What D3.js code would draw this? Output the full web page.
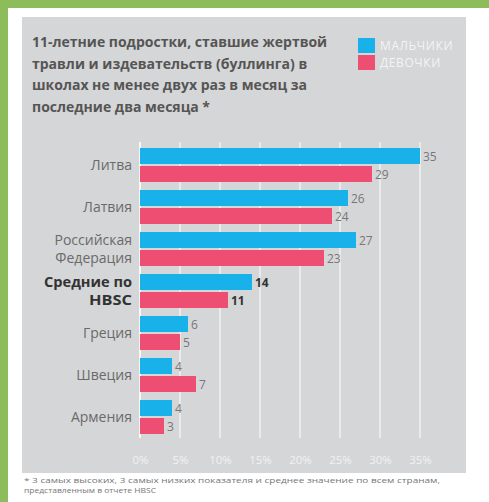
<!DOCTYPE html>
<html lang="ru">
<head>
    <meta charset="UTF-8">
    <title>Буллинг</title>
    <script src="https://cdn.jsdelivr.net/npm/d3@7"></script>
    <style>
        body { margin: 0; background: #fff; }
        svg { display: block; font-family: "Open Sans", "Noto Sans", sans-serif; }
    </style>
</head>
<body>
    <div id="chart"></div>
    <script>
        // данные
        const countries = [
            ["Литва"],
            ["Латвия"],
            ["Российская", "Федерация"],
            ["Средние по", "HBSC"],
            ["Греция"],
            ["Швеция"],
            ["Армения"]
        ];
        const boys = [35, 26, 27, 14, 6, 4, 4];
        const girls = [29, 24, 23, 11, 5, 7, 3];
        const ticks = [0, 5, 10, 15, 20, 25, 30, 35];
        const titleLines = [
            "11-летние подростки, ставшие жертвой",
            "травли и издевательств (буллинга) в",
            "школах не менее двух раз в месяц за",
            "последние два месяца *"
        ];
        const legendLabels = ["МАЛЬЧИКИ", "ДЕВОЧКИ"];
        const footLines = [
            "* 3 самых высоких, 3 самых низких показателя и среднее значение по всем странам,",
            "представленным в отчете HBSC"
        ];

        const width = 489, height = 502;
        const blue = "#18b1e9", pink = "#ee4e72";

        const svg = d3.select("#chart").append("svg")
            .attr("width", width)
            .attr("height", height);

        // рамка
        svg.append("rect").attr("width", width).attr("height", 8).attr("fill", "#8dbd5b");
        svg.append("rect").attr("width", 8).attr("height", height).attr("fill", "#8dbd5b");
        svg.append("rect").attr("x", 22).attr("y", 17).attr("width", 444).attr("height", 456)
            .attr("fill", "#d5d6d7");

        // заголовок
        svg.append("g").selectAll("text")
            .data(titleLines)
            .join("text")
            .attr("x", 32)
            .attr("y", (d, i) => 47 + i * 21.5)
            .attr("font-size", 14)
            .attr("font-weight", "bold")
            .attr("fill", "#555")
            .text(d => d);

        // легенда
        const leg = svg.append("g").selectAll("g")
            .data(legendLabels)
            .join("g")
            .attr("transform", (d, i) => `translate(358,${38 + i * 17})`);
        leg.append("rect").attr("width", 17).attr("height", 15)
            .attr("fill", (d, i) => i === 0 ? blue : pink);
        leg.append("text").attr("x", 22).attr("y", 12)
            .attr("font-size", 12).attr("fill", "#f4f4f4")
            .attr("letter-spacing", 0.6)
            .text(d => d);

        const x = d3.scaleLinear().domain([0, 35]).range([140, 420]);
        const y = d3.scaleBand().domain(d3.range(countries.length))
            .range([148, 434]).paddingInner(8 / 42).paddingOuter(0);

        // сетка
        svg.append("g").selectAll("line")
            .data(ticks)
            .join("line")
            .attr("x1", d => x(d)).attr("x2", d => x(d))
            .attr("y1", 142).attr("y2", 438)
            .attr("stroke", "#fff")
            .attr("stroke-width", d => d === 0 ? 2 : 1.2)
            .attr("opacity", 0.85);

        // ось
        const axis = svg.append("g")
            .attr("transform", "translate(0,457)")
            .call(d3.axisBottom(x).tickValues(ticks).tickFormat(d => d + "%").tickSize(0));
        axis.select(".domain").remove();
        axis.selectAll("text")
            .attr("font-size", 11.5)
            .attr("fill", "#f2f2f2")
            .attr("dy", "0.32em")
            .attr("font-family", "Open Sans, sans-serif");

        const bh = 16;
        const groups = svg.append("g").selectAll("g")
            .data(countries)
            .join("g")
            .attr("transform", (d, i) => `translate(0,${y(i)})`);

        groups.append("rect")
            .attr("x", x(0)).attr("y", 0)
            .attr("width", (d, i) => x(boys[i]) - x(0))
            .attr("height", bh)
            .attr("fill", blue);
        groups.append("rect")
            .attr("x", x(0)).attr("y", bh + 2)
            .attr("width", (d, i) => x(girls[i]) - x(0))
            .attr("height", bh)
            .attr("fill", pink);

        groups.append("text")
            .attr("x", (d, i) => x(boys[i]) + 3)
            .attr("y", bh / 2 + 4.5)
            .attr("font-size", 12)
            .attr("font-weight", (d, i) => i === 3 ? "bold" : "normal")
            .attr("fill", (d, i) => i === 3 ? "#333" : "#777")
            .text((d, i) => boys[i]);
        groups.append("text")
            .attr("x", (d, i) => x(girls[i]) + 3)
            .attr("y", bh + 2 + bh / 2 + 4.5)
            .attr("font-size", 12)
            .attr("font-weight", (d, i) => i === 3 ? "bold" : "normal")
            .attr("fill", (d, i) => i === 3 ? "#333" : "#777")
            .text((d, i) => girls[i]);

        // подписи стран
        groups.each(function (d, i) {
            const g = d3.select(this);
            const mid = bh + 1;
            const step = 18;
            d.forEach((line, j) => {
                const t = g.append("text")
                    .attr("x", 132)
                    .attr("y", mid + (j - (d.length - 1) / 2) * step + 5)
                    .attr("text-anchor", "end")
                    .attr("font-size", i === 3 ? 14 : 14)
                    .attr("font-weight", i === 3 ? "bold" : "normal")
                    .attr("fill", i === 3 ? "#333" : "#6a6a6a")
                    .text(line);
                if (i === 3) {
                    // в оригинале жирный шрифт узкий
                    t.attr("textLength", j === 0 ? 88 : 43)
                        .attr("lengthAdjust", "spacingAndGlyphs");
                }
            });
        });

        // сноска
        svg.append("g").selectAll("text")
            .data(footLines)
            .join("text")
            .attr("x", 24)
            .attr("y", (d, i) => 483 + i * 9.5)
            .attr("font-size", 7.4)
            .attr("fill", "#777")
            .attr("textLength", (d, i) => i === 0 ? 416 : 132)
            .attr("lengthAdjust", "spacingAndGlyphs")
            .text(d => d);
    </script>
</body>
</html>
